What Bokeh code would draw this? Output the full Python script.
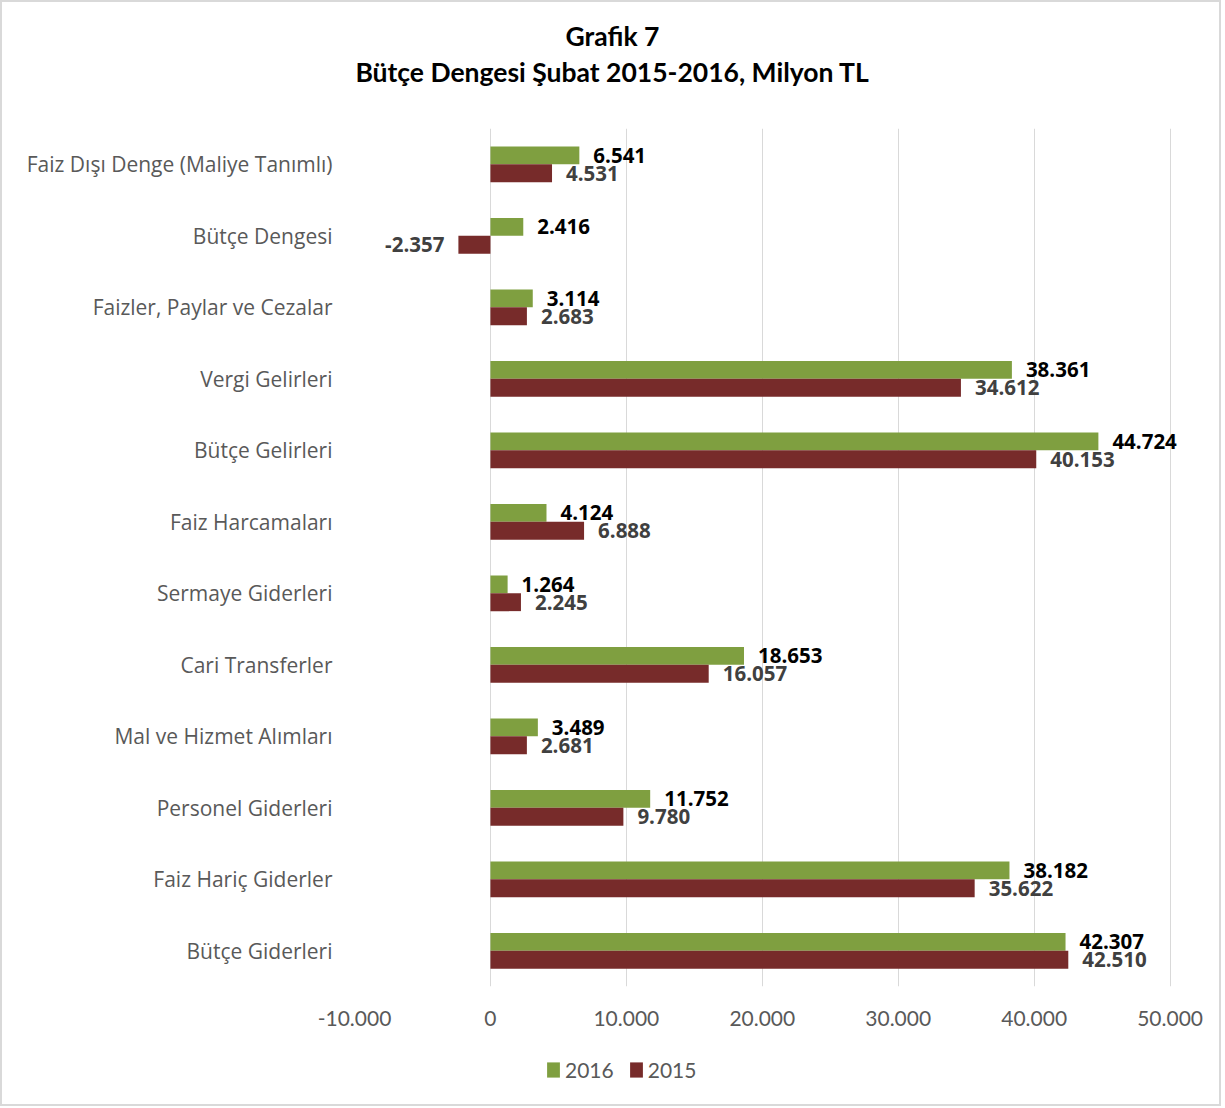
from bokeh.plotting import figure
from bokeh.layouts import column
from bokeh.models import (ColumnDataSource, FactorRange, Range1d, FixedTicker,
                          Legend, LegendItem)
from bokeh.transform import dodge
from bokeh.core.properties import value
from bokeh.embed import file_html
from bokeh.resources import INLINE

categories = [
    "Faiz Dışı Denge (Maliye Tanımlı)",
    "Bütçe Dengesi",
    "Faizler, Paylar ve Cezalar",
    "Vergi Gelirleri",
    "Bütçe Gelirleri",
    "Faiz Harcamaları",
    "Sermaye Giderleri",
    "Cari Transferler",
    "Mal ve Hizmet Alımları",
    "Personel Giderleri",
    "Faiz Hariç Giderler",
    "Bütçe Giderleri",
]
values_2016 = [6541, 2416, 3114, 38361, 44724, 4124, 1264, 18653, 3489, 11752, 38182, 42307]
values_2015 = [4531, -2357, 2683, 34612, 40153, 6888, 2245, 16057, 2681, 9780, 35622, 42510]
tick_values = [-10000, 0, 10000, 20000, 30000, 40000, 50000]
tick_labels = ["-10.000", "0", "10.000", "20.000", "30.000", "40.000", "50.000"]
series_names = ["2016", "2015"]

title_lines = ["Grafik 7", "Bütçe Dengesi Şubat 2015-2016, Milyon TL"]

GREEN = "#7F9F40"
RED = "#772B2A"
GREY = "#595959"
FONT_T = "Lato"
FONT_C = "Open Sans"

B = 2                              # width of the light grey frame round the chart
W = 1217
H_TOP, H_MAIN, H_LEG = 128 - B, 917, 59
LEFT, RIGHT = 354 - B, 29          # frame borders shared by all strips


def fmt(v):
    return f"{v:,}".replace(",", ".")


def make_source(vals, keep):
    cats = [c for c, v in zip(categories, vals) if keep(v)]
    vs = [v for v in vals if keep(v)]
    return ColumnDataSource(dict(cat=cats, v=vs, lbl=[fmt(v) for v in vs]))


def bare(fig):
    fig.outline_line_color = None
    fig.xgrid.grid_line_color = None
    fig.ygrid.grid_line_color = None
    fig.background_fill_color = "white"
    fig.border_fill_color = "white"


# ---------------- title strip (x in page pixels, frame aligned with main chart) ----------------
pt = figure(width=W, height=H_TOP, output_backend="svg", toolbar_location=None,
            x_range=Range1d(LEFT, W - RIGHT), y_range=Range1d(H_TOP, 0),
            x_axis_location=None, y_axis_location=None,
            min_border_left=LEFT, min_border_right=RIGHT,
            min_border_top=0, min_border_bottom=0)
bare(pt)
pt.text(x=[612 - B, 612 - B], y=[35 - B, 71 - B], text=title_lines,
        text_align="center", text_baseline="middle",
        text_font=value(FONT_T), text_font_style="bold", text_font_size="26.5px",
        text_color="#000000")

# ---------------- main chart ----------------
src16 = ColumnDataSource(dict(cat=categories, v=values_2016))
src15 = ColumnDataSource(dict(cat=categories, v=values_2015))

p = figure(width=W, height=H_MAIN, output_backend="svg", toolbar_location=None,
           y_range=FactorRange(factors=list(reversed(categories))),
           x_range=Range1d(-10000, 51500),
           min_border_left=LEFT, min_border_right=RIGHT,
           min_border_top=0, min_border_bottom=59)
p.outline_line_color = None
p.background_fill_color = "white"
p.border_fill_color = "white"

p.hbar(y=dodge("cat", 0.125, range=p.y_range), right="v", left=0, height=0.25,
       source=src16, fill_color=GREEN, line_color=None)
p.hbar(y=dodge("cat", -0.125, range=p.y_range), right="v", left=0, height=0.25,
       source=src15, fill_color=RED, line_color=None)

for vals, off, col in [(values_2016, 0.125, "#000000"), (values_2015, -0.125, "#404040")]:
    pos = make_source(vals, lambda v: v >= 0)
    neg = make_source(vals, lambda v: v < 0)
    p.text(x="v", y=dodge("cat", off, range=p.y_range), text="lbl", source=pos,
           x_offset=14, text_align="left", text_baseline="middle",
           text_font=value(FONT_C), text_font_style="bold", text_font_size="20.5px",
           text_color=col)
    p.text(x="v", y=dodge("cat", off, range=p.y_range), text="lbl", source=neg,
           x_offset=-14, text_align="right", text_baseline="middle",
           text_font=value(FONT_C), text_font_style="bold", text_font_size="20.5px",
           text_color=col)

p.xaxis.ticker = FixedTicker(ticks=tick_values)
p.xaxis.major_label_overrides = {t: l for t, l in zip(tick_values, tick_labels)}
p.xaxis.axis_line_color = None
p.xaxis.major_tick_line_color = None
p.xaxis.minor_tick_line_color = None
p.xaxis.major_label_text_font = FONT_T
p.xaxis.major_label_text_font_size = "21px"
p.xaxis.major_label_text_color = GREY
p.xaxis.major_label_standoff = 18

p.yaxis.axis_line_color = None
p.yaxis.major_tick_line_color = None
p.yaxis.minor_tick_line_color = None
p.yaxis.major_label_text_font = FONT_C
p.yaxis.major_label_text_font_size = "21px"
p.yaxis.major_label_text_color = GREY
p.yaxis.major_label_standoff = 16

p.xgrid.ticker = FixedTicker(ticks=tick_values)
p.xgrid.grid_line_color = "#D9D9D9"
p.ygrid.grid_line_color = None

# ---------------- legend strip ----------------
pl = figure(width=W, height=H_LEG, output_backend="svg", toolbar_location=None,
            x_range=Range1d(0, 1), y_range=Range1d(0, 1),
            x_axis_location=None, y_axis_location=None,
            min_border_left=LEFT, min_border_right=RIGHT,
            min_border_top=0, min_border_bottom=0)
bare(pl)
# swatch renderers kept outside the visible range; only their legend entries show
k16 = ColumnDataSource(dict(y=[-5], right=[values_2016[0]]))
k15 = ColumnDataSource(dict(y=[-5], right=[values_2015[0]]))
l16 = pl.hbar(y="y", right="right", left=0, height=0.25, source=k16,
              fill_color=GREEN, line_color=None)
l15 = pl.hbar(y="y", right="right", left=0, height=0.25, source=k15,
              fill_color=RED, line_color=None)
legend = Legend(items=[LegendItem(label=series_names[0], renderers=[l16]),
                       LegendItem(label=series_names[1], renderers=[l15])],
                orientation="horizontal", location=(545 - B - LEFT, 22),
                glyph_width=16, glyph_height=19, label_standoff=4, spacing=14,
                padding=0, margin=0, border_line_color=None,
                background_fill_alpha=0,
                label_text_font=FONT_T, label_text_font_size="21px",
                label_text_color=GREY)
pl.add_layout(legend)

layout = column(pt, p, pl, spacing=0,
                styles={"border": f"{B}px solid #D9D9D9"})
open("out.html", "w").write(file_html(layout, INLINE))
